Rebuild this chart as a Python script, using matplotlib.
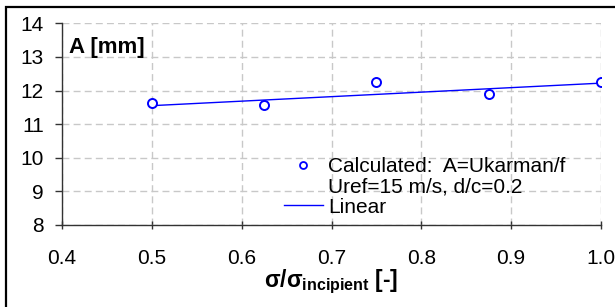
import matplotlib
matplotlib.use("Agg")
import matplotlib.pyplot as plt
from matplotlib.lines import Line2D
from matplotlib.patches import Rectangle

# ── Data ─────────────────────────────────────────────────────────────────────
sigma_ratio = [0.5, 0.625, 0.75, 0.875, 1.0]
amplitude_mm = [11.62, 11.57, 12.24, 11.89, 12.25]

# linear trend line end points
trend_x = [0.5, 1.0]
trend_y = [11.55, 12.22]

x_ticks = [0.4, 0.5, 0.6, 0.7, 0.8, 0.9, 1.0]
y_ticks = [8, 9, 10, 11, 12, 13, 14]

plt.rcParams["font.family"] = ["Liberation Sans", "DejaVu Sans"]
plt.rcParams["mathtext.fontset"] = "custom"
plt.rcParams["mathtext.rm"] = "Liberation Sans"
plt.rcParams["mathtext.bf"] = "Liberation Sans:bold"

fig = plt.figure(figsize=(6.15, 3.07), dpi=100)
W, H = 615, 307
ax = fig.add_axes([62 / W, 1 - 225 / H, (601 - 62) / W, (225 - 23.3) / H])

blue = "#0000ff"

ax.plot(sigma_ratio, amplitude_mm, linestyle="none", marker="o",
        markersize=6.5, markerfacecolor="white", markeredgecolor=blue,
        markeredgewidth=1.4, zorder=3)
ax.plot(trend_x, trend_y, color=blue, linewidth=1.0, zorder=2)

ax.set_xlim(0.4, 1.0)
ax.set_ylim(8, 14)
ax.set_xticks(x_ticks)
ax.set_yticks(y_ticks)
ax.set_xticklabels([f"{v:.1f}" for v in x_ticks])
ax.set_yticklabels([str(v) for v in y_ticks])

ax.grid(True, color="#c8c8c8", linestyle=(0, (5, 3)), linewidth=1.0)
ax.set_axisbelow(True)
for side in ("top", "right"):
    ax.spines[side].set_visible(False)
for side in ("left", "bottom"):
    ax.spines[side].set_color("#333333")
    ax.spines[side].set_linewidth(1.0)

ax.tick_params(axis="y", direction="out", length=5, width=1, pad=8,
               labelsize=15, color="#333333")
ax.tick_params(axis="x", direction="inout", length=6, width=1, pad=14,
               labelsize=15, color="#333333")

ax.text(0.013, 0.853, "A [mm]", transform=ax.transAxes, fontsize=16,
        fontweight="bold", ha="left", va="baseline")

ax.set_xlabel(r"σ/σ$_{\mathbf{incipient}}$ [-]", fontsize=16.5,
              fontweight="bold", labelpad=0)

handles = [
    Line2D([], [], linestyle="none", marker="o", markersize=5,
           markerfacecolor="white", markeredgecolor=blue, markeredgewidth=1.3),
    Line2D([], [], linestyle="none"),
    Line2D([], [], color=blue, linewidth=1.0),
]
labels = ["Calculated:  A=Ukarman/f", "Uref=15 m/s, d/c=0.2", "Linear"]
ax.legend(handles, labels, loc="upper left", bbox_to_anchor=(0.412, 0.335),
          frameon=False, fontsize=15, borderpad=0, borderaxespad=0,
          handlelength=1.85, handletextpad=0.25, labelspacing=0.05)

# outer chart frame (right and bottom edges fall outside the picture)
fig.patches.append(Rectangle((6 / W, -0.1), 1.2, 1 - 7 / H + 0.1,
                             transform=fig.transFigure, fill=False,
                             edgecolor="black", linewidth=1.6))

fig.savefig("out.png", dpi=100)
